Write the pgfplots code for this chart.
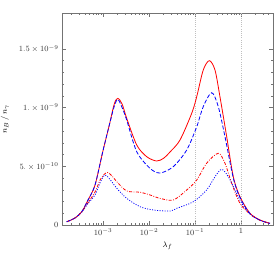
\documentclass[border=0pt]{standalone}
\usepackage{pgfplots}
\pgfplotsset{compat=1.18}
\begin{document}
\begin{tikzpicture}
\begin{axis}[
  scale only axis, width=211bp, height=212bp,
  xmode=log, xmin=1.28e-4, xmax=4.97, ymin=0, ymax=1.806,
  xtick={1e-3,1e-2,1e-1,1},
  xticklabels={$10^{-3}$,$10^{-2}$,$10^{-1}$,$1$},
  minor xtick={2e-4,3e-4,4e-4,5e-4,6e-4,7e-4,8e-4,9e-4,2e-3,3e-3,4e-3,5e-3,6e-3,7e-3,8e-3,9e-3,2e-2,3e-2,4e-2,5e-2,6e-2,7e-2,8e-2,9e-2,0.2,0.3,0.4,0.5,0.6,0.7,0.8,0.9,2,3,4},
  ytick={0,0.5,1,1.5},
  yticklabels={$0$,$5.\times10^{-10}$,$1.\times10^{-9}$,$1.5\times10^{-9}$},
  minor y tick num=4,
  tick align=inside, major tick length=4bp, minor tick length=2bp,
  tick style={black!55, line width=0.4pt},
  axis line style={black!55, line width=0.5pt},
  tick label style={font=\footnotesize, black!80},
  xlabel={$\lambda_f$}, ylabel={$n_B\,/\,n_\gamma$},
  ylabel shift=3bp,
  label style={font=\footnotesize},
  every axis plot/.append style={line width=0.8bp, smooth, tension=0.5},
]
\draw[black!25, dash pattern=on 0.6bp off 1.6bp, line width=0.5pt] (axis cs:0.1,0) -- (axis cs:0.1,1.806);
\draw[black!25, dash pattern=on 0.6bp off 1.6bp, line width=0.5pt] (axis cs:1,0) -- (axis cs:1,1.806);
% red solid
\addplot[red] coordinates {(1.63e-4,0.028) (2.46e-4,0.06) (3.44e-4,0.113) (4.72e-4,0.213) (6.7e-4,0.341) (9.85e-4,0.624) (1.37e-3,0.852) (1.75e-3,1.03) (2.09e-3,1.079) (2.6e-3,1.03) (3.27e-3,0.909) (5.41e-3,0.681) (8.9e-3,0.582) (1.47e-2,0.545) (2.1e-2,0.57) (2.86e-2,0.622) (4.72e-2,0.724) (8.47e-2,0.951) (0.109,1.093) (0.151,1.320) (0.205,1.40) (0.272,1.320) (0.349,1.093) (0.489,0.752) (0.681,0.411) (0.95,0.241) (1.57,0.1) (2.59,0.043) (4.27,0.014)};
% blue dashed
\addplot[blue, dash pattern=on 4bp off 2bp] coordinates {(1.63e-4,0.028) (2.46e-4,0.06) (3.44e-4,0.113) (4.72e-4,0.213) (6.7e-4,0.341) (9.85e-4,0.624) (1.37e-3,0.852) (1.75e-3,1.01) (2.09e-3,1.07) (2.6e-3,1.0) (3.27e-3,0.894) (5.41e-3,0.624) (1.05e-2,0.483) (1.73e-2,0.443) (3.37e-2,0.497) (6.6e-2,0.639) (0.109,0.837) (0.151,1.008) (0.231,1.127) (0.321,1.008) (0.449,0.752) (0.681,0.40) (0.95,0.234) (1.57,0.096) (2.59,0.041) (4.27,0.0136)};
% red dash-dot
\addplot[red, dash pattern=on 3bp off 1.5bp on 0.8bp off 1.5bp] coordinates {(1.63e-4,0.028) (2.46e-4,0.06) (3.44e-4,0.11) (4.72e-4,0.19) (6.7e-4,0.281) (8.6e-4,0.383) (1.05e-3,0.43) (1.25e-3,0.447) (1.55e-3,0.42) (1.99e-3,0.369) (3.27e-3,0.29) (6.37e-3,0.279) (1.05e-2,0.256) (1.73e-2,0.227) (3.37e-2,0.213) (6.6e-2,0.298) (0.109,0.383) (0.179,0.526) (0.321,0.611) (0.449,0.526) (0.628,0.355) (0.95,0.185) (1.57,0.094) (2.59,0.04) (4.27,0.0136)};
% blue dotted
\addplot[blue, dash pattern=on 1bp off 1.5bp] coordinates {(1.63e-4,0.028) (2.46e-4,0.06) (3.44e-4,0.11) (4.72e-4,0.185) (6.7e-4,0.256) (8.6e-4,0.36) (1.1e-3,0.426) (1.4e-3,0.39) (1.99e-3,0.313) (3.27e-3,0.227) (6.37e-3,0.156) (1.24e-2,0.128) (2.86e-2,0.119) (4.0e-2,0.142) (9.18e-2,0.198) (0.179,0.298) (0.272,0.411) (0.38,0.474) (0.53,0.411) (0.741,0.298) (1.035,0.185) (1.57,0.094) (2.59,0.04) (4.27,0.0136)};
\end{axis}
\pgfresetboundingbox
\useasboundingbox ([xshift=-62bp,yshift=-33bp]current axis.south west) rectangle ([xshift=3bp,yshift=13bp]current axis.north east);
\end{tikzpicture}
\end{document}
